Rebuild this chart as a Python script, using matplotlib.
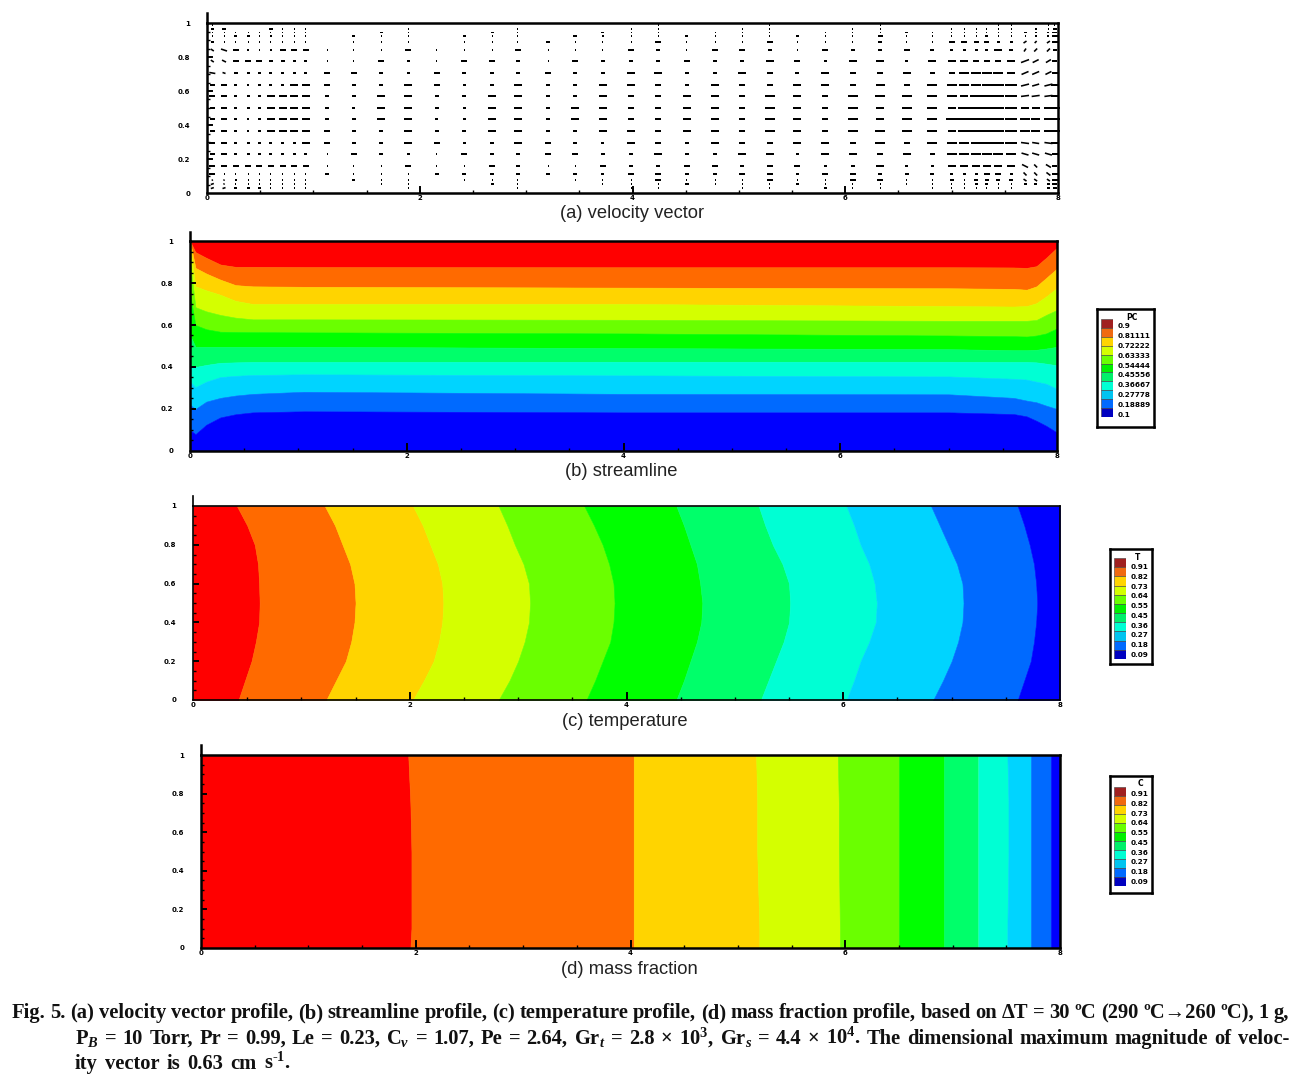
import numpy as np
import matplotlib
matplotlib.use("Agg")
import matplotlib.pyplot as plt
from matplotlib.ticker import MultipleLocator

plt.rcParams["mathtext.fontset"] = "custom"
plt.rcParams["mathtext.rm"] = "Liberation Serif:bold"
plt.rcParams["mathtext.it"] = "Liberation Serif:italic:bold"
plt.rcParams["mathtext.bf"] = "Liberation Serif:bold"

W, H = 1300, 1080

# ── Data ────────────────────────────────────────────────────────────────────

BAND_COLORS = ["#ff0000", "#ff6a00", "#ffd400", "#d4ff00", "#6aff00", "#00ff00",
               "#00ff6a", "#00ffd4", "#00d4ff", "#006aff", "#0000ff"]
SWATCH_COLORS = ["#a02020", "#f06a10", "#ffd400", "#d4ff00", "#6aff00", "#00f000",
                 "#00f06a", "#00ffd4", "#00c4f0", "#006aff", "#0000c0"]

# (a) velocity vectors: dash length in pixels (hex digit) per row and column
VEC_X = [0.05, 0.16, 0.27, 0.39, 0.49, 0.60, 0.71, 0.82, 0.93, 1.13, 1.38, 1.64,
         1.89, 2.16, 2.42, 2.68, 2.92, 3.21, 3.46, 3.72, 3.99, 4.24, 4.51, 4.78,
         5.03, 5.29, 5.55, 5.81, 6.07, 6.33, 6.58, 6.82, 7.00, 7.12, 7.23, 7.33,
         7.44, 7.56, 7.69, 7.79, 7.91, 7.97]
VEC_Y = [0.988, 0.965, 0.944, 0.924, 0.888, 0.841, 0.776, 0.706, 0.635, 0.571,
         0.5, 0.435, 0.365, 0.294, 0.229, 0.159, 0.112, 0.076, 0.053, 0.029]
VEC_LEN = [
    "100000000 000000 0000001000100010 00000110011",
    "340004111 000100 0100011001100110 01111110214",
    "111111111 003100 3100311011101113 11111113225",
    "113312111 031103 1104211311131151 11113111226",
    "311111111 011101 1141116111611141 16655333236",
    "366212666 111611 1611164166416446 43333842334",
    "346664433 116316 6416444644863883 88866688655",
    "634333333 664364 4464488448648668 56aaaa87766",
    "563233388 644863 4844886486688696 aaaaacc8788",
    "663338888 448844 8844866886a86aaa aa8cccc8888",
    "563338888 438843 8848866886a86a8a a8ccccc888a",
    "563238888 448833 8848866886a86a8a acccccca99a",
    "563238888 644844 8844886886a86aaa a8ccccca99a",
    "663333338 644863 48643864866886a6 aaaaccc8788",
    "563333333 164316 4466448448838868 5aaaaaa7776",
    "666666666 111611 6411644664663483 38888886355",
    "611111111 411144 4444366446636644 43336633346",
    "112111111 031101 1101116111611661 14144443336",
    "311111111 001100 3100111411131111 11133113335",
    "333331111 000100 0100011001103110 11111110034",
]
# slant of the dashes next to the side walls, pixels per row
RISE_RIGHT = [0, 0, 0, 0, 2, 3, 3, 3, 2, 1, 0, 0, 0, -1, -2, -3, -3, -2, 0, 0]
RISE_LEFT = [0, 0, 0, 0, 0, -2, -2, -1, 0, 0, 0, 0, 0, 0, 0, 0, 0, 1, 1, 1]

# (b) streamline band edges, y of each edge at STREAM_X
STREAM_X = [0, 0.05, 0.15, 0.28, 0.42, 0.58, 1.05, 4.0, 7.0, 7.6, 7.72, 7.81, 7.9, 8.0]
STREAM_EDGES = [
    [1.00, .947, .920, .888, .877, .877, .876, .875, .875, .874, .872, .880, .920, .968],
    [1.00, .872, .845, .816, .790, .784, .782, .778, .775, .772, .768, .784, .824, .869],
    [.980, .784, .765, .744, .715, .700, .700, .700, .690, .688, .690, .704, .736, .776],
    [.900, .685, .665, .648, .635, .627, .627, .625, .620, .620, .620, .624, .648, .672],
    [.750, .600, .580, .568, .567, .566, .565, .560, .550, .547, .545, .550, .560, .584],
    [.550, .496, .496, .496, .496, .496, .496, .490, .485, .480, .480, .482, .488, .496],
    [.400, .400, .410, .420, .422, .424, .424, .425, .425, .424, .424, .422, .416, .408],
    [.330, .304, .330, .352, .358, .362, .365, .360, .355, .344, .340, .330, .320, .296],
    [.220, .200, .235, .253, .264, .272, .282, .272, .270, .253, .240, .232, .216, .200],
    [.100, .080, .125, .160, .175, .184, .189, .184, .184, .176, .165, .144, .120, .088],
]

# (c) temperature band edges, x of each edge at TEMP_Y
TEMP_Y = [1.0, 0.9, 0.8, 0.7, 0.6, 0.5, 0.4, 0.3, 0.2, 0.1, 0.0]
TEMP_EDGES = [
    [.405, .50, .57, .60, .61, .615, .61, .58, .54, .48, .42],
    [1.216, 1.31, 1.38, 1.45, 1.49, 1.50, 1.49, 1.46, 1.41, 1.32, 1.23],
    [2.03, 2.12, 2.19, 2.26, 2.30, 2.31, 2.30, 2.27, 2.22, 2.13, 2.03],
    [2.82, 2.90, 2.97, 3.05, 3.10, 3.11, 3.10, 3.06, 3.00, 2.92, 2.82],
    [3.61, 3.70, 3.78, 3.84, 3.88, 3.89, 3.88, 3.85, 3.78, 3.71, 3.63],
    [4.46, 4.53, 4.59, 4.65, 4.68, 4.70, 4.69, 4.65, 4.59, 4.53, 4.46],
    [5.22, 5.28, 5.35, 5.44, 5.50, 5.51, 5.50, 5.45, 5.38, 5.31, 5.24],
    [6.03, 6.10, 6.16, 6.24, 6.29, 6.31, 6.30, 6.24, 6.16, 6.10, 6.03],
    [6.81, 6.89, 6.97, 7.05, 7.10, 7.11, 7.10, 7.06, 7.00, 6.92, 6.83],
    [7.61, 7.67, 7.72, 7.76, 7.78, 7.79, 7.78, 7.76, 7.73, 7.67, 7.61],
]

# (d) mass fraction band edges, x of each edge at MASS_Y
MASS_Y = [1.0, 0.75, 0.5, 0.1, 0.0]
MASS_EDGES = [
    [1.93, 1.95, 1.96, 1.96, 1.95],
    [4.03, 4.03, 4.03, 4.03, 4.03],
    [5.17, 5.18, 5.18, 5.20, 5.20],
    [5.93, 5.94, 5.94, 5.95, 5.95],
    [6.50, 6.50, 6.50, 6.50, 6.50],
    [6.92, 6.92, 6.92, 6.92, 6.92],
    [7.24, 7.24, 7.24, 7.24, 7.24],
    [7.51, 7.52, 7.52, 7.51, 7.51],
    [7.73, 7.73, 7.73, 7.73, 7.73],
    [7.92, 7.92, 7.92, 7.92, 7.92],
]

X_TICKS = [0, 2, 4, 6, 8]
Y_TICKS = [0, 0.2, 0.4, 0.6, 0.8, 1]
Y_LABELS = ["0", "0.2", "0.4", "0.6", "0.8", "1"]

LEGEND_B = ["0.9", "0.81111", "0.72222", "0.63333", "0.54444",
            "0.45556", "0.36667", "0.27778", "0.18889", "0.1"]
LEGEND_C = ["0.91", "0.82", "0.73", "0.64", "0.55", "0.45", "0.36", "0.27", "0.18", "0.09"]
LEGEND_D = ["0.91", "0.82", "0.73", "0.64", "0.55", "0.45", "0.36", "0.27", "0.18", "0.09"]

CAPTION = [
    "Fig. 5. (a) velocity vector profile, (b) streamline profile, (c) temperature profile, "
    "(d) mass fraction profile, based on \u0394T = 30 \u00baC (290 \u00baC\u2192260 \u00baC), 1 g,",
    "P$_{B}$ = 10 Torr, Pr = 0.99, Le = 0.23, C$_{v}$ = 1.07, Pe = 2.64, Gr$_{t}$ = 2.8 \u00d7 10$^{3}$, "
    "Gr$_{s}$ = 4.4 \u00d7 10$^{4}$. The dimensional maximum magnitude of veloc-",
    "ity vector is 0.63 cm s$^{\u20101}$.",
]


# ── Helpers ─────────────────────────────────────────────────────────────────

fig = plt.figure(figsize=(W / 100, H / 100), dpi=100, facecolor="white")


def px_axes(left, top, right, bottom, **kw):
    return fig.add_axes([left / W, 1 - bottom / H, (right - left) / W, (bottom - top) / H], **kw)


def px_text(x, y, s, **kw):
    return fig.text(x / W, 1 - y / H, s, **kw)


def panel(box, label, label_x, label_y, axis_top, lw=1.8):
    ax = px_axes(*box)
    ax.set_xlim(0, 8)
    ax.set_ylim(0, 1)
    ax.set_xticks(X_TICKS)
    ax.set_yticks(Y_TICKS)
    ax.set_yticklabels(Y_LABELS)
    ax.xaxis.set_minor_locator(MultipleLocator(0.5))
    ax.yaxis.set_minor_locator(MultipleLocator(0.05))
    ax.tick_params(which="major", length=0, labelsize=5)
    ax.tick_params(axis="x", which="major", pad=1.5)
    ax.tick_params(axis="y", which="major", pad=12)
    ax.tick_params(which="minor", direction="in", length=2, width=1)
    for lab in ax.get_xticklabels() + ax.get_yticklabels():
        lab.set_fontweight("bold")
    for sp in ax.spines.values():
        sp.set_linewidth(lw)
    for t in X_TICKS[1:-1]:
        ax.plot([t, t], [0, 0.035], color="black", lw=1.4, zorder=6)
    for t in Y_TICKS[1:-1]:
        ax.plot([0, 0.045], [t, t], color="black", lw=1.4, zorder=6)
    # y axis line runs on past the frame
    ax.plot([0, 0], [1, axis_top], color="black", lw=lw, clip_on=False, zorder=6)
    px_text(label_x, label_y, label, family="Liberation Sans", fontsize=13.2,
            ha="center", va="center", color="#222222")
    return ax


def legend(box, bar, title, title_xy, labels, label_x, rows):
    frame = px_axes(*box, zorder=1)
    frame.set_xticks([])
    frame.set_yticks([])
    for sp in frame.spines.values():
        sp.set_linewidth(1.8)
    ax = px_axes(*bar, zorder=2)
    ax.bar(np.zeros(11), np.ones(11), bottom=np.arange(11)[::-1], width=1,
           color=SWATCH_COLORS, edgecolor="#404040", linewidth=0.4)
    ax.set_xlim(-0.5, 0.5)
    ax.set_ylim(0, 11)
    ax.axis("off")
    px_text(title_xy[0], title_xy[1], title, fontsize=5.5, fontweight="bold",
            ha="center", va="center", zorder=3)
    for y, s in zip(np.linspace(rows[0], rows[1], len(labels)), labels):
        px_text(label_x, y, s, fontsize=5.2, fontweight="bold", ha="left", va="center", zorder=3)


def justified(words_line, x0, x1, y, size):
    renderer = fig.canvas.get_renderer()
    words = words_line.split(" ")
    items = [px_text(0, y, w, family="Liberation Serif", fontweight="bold",
                     fontsize=size, ha="left", va="baseline", color="#111111") for w in words]
    widths = [t.get_window_extent(renderer).width for t in items]
    gap = (x1 - x0 - sum(widths)) / (len(words) - 1)
    x = x0
    for t, w in zip(items, widths):
        t.set_x(x / W)
        x += w + gap


# ── Panel (a) ───────────────────────────────────────────────────────────────

ax_a = panel((207, 23, 1058, 193), "(a) velocity vector", 632, 213, 1.06)

px_x = 8 / 851
px_y = 1 / 170
vx, vy, vu, vv = [], [], [], []
for r, row in enumerate(VEC_LEN):
    digits = [int(c, 16) for c in row.replace(" ", "")]
    for c, n in enumerate(digits):
        if n == 0:
            continue
        rise = 0
        if c in (38, 39, 40):
            rise = RISE_RIGHT[r]
        elif c in (0, 1):
            rise = RISE_LEFT[r]
        vx.append(VEC_X[c])
        vy.append(VEC_Y[r])
        vu.append(n * px_x)
        vv.append(rise * px_y)
ax_a.quiver(vx, vy, vu, vv, angles="xy", scale_units="xy", scale=1, pivot="mid",
            units="dots", width=1.6, headwidth=1, headlength=0, headaxislength=0,
            minlength=0, color="black", clip_on=False, zorder=5)

# ── Panel (b) ───────────────────────────────────────────────────────────────

ax_b = panel((190, 241, 1057, 451), "(b) streamline", 621, 471, 1.045)
edges = [[1.0] * len(STREAM_X)] + STREAM_EDGES + [[0.0] * len(STREAM_X)]
for color, hi, lo in zip(BAND_COLORS, edges[:-1], edges[1:]):
    ax_b.fill_between(STREAM_X, lo, hi, facecolor=color, edgecolor=color, lw=0.4)

# ── Panel (c) ───────────────────────────────────────────────────────────────

ax_c = panel((193, 506, 1060, 700), "(c) temperature", 625, 722, 1.05, lw=1.2)
edges = [[0.0] * len(TEMP_Y)] + TEMP_EDGES + [[8.0] * len(TEMP_Y)]
for color, lo, hi in zip(BAND_COLORS, edges[:-1], edges[1:]):
    ax_c.fill_betweenx(TEMP_Y, lo, hi, facecolor=color, edgecolor=color, lw=0.4)

# ── Panel (d) ───────────────────────────────────────────────────────────────

ax_d = panel((201, 755, 1060, 948), "(d) mass fraction", 629, 970, 1.05)
edges = [[0.0] * len(MASS_Y)] + MASS_EDGES + [[8.0] * len(MASS_Y)]
for color, lo, hi in zip(BAND_COLORS, edges[:-1], edges[1:]):
    ax_d.fill_betweenx(MASS_Y, lo, hi, facecolor=color, edgecolor=color, lw=0.4)

# ── Legends ─────────────────────────────────────────────────────────────────

legend((1097, 309, 1154, 427), (1101, 319, 1113, 417), "PC", (1132, 317), LEGEND_B, 1118, (326, 415))
legend((1110, 549, 1152, 664), (1114, 558, 1126, 659), "T", (1138, 557), LEGEND_C, 1131, (567, 655))
legend((1110, 776, 1152, 893), (1114, 787, 1126, 886), "C", (1140, 784), LEGEND_D, 1131, (794, 882))

# ── Caption ─────────────────────────────────────────────────────────────────

fig.canvas.draw()
justified(CAPTION[0], 12, 1289, 1018, 14.8)
justified(CAPTION[1], 75, 1289, 1044, 14.8)
justified(CAPTION[2], 75, 291, 1069, 14.8)

fig.savefig("out.png", dpi=100, facecolor="white")
plt.close(fig)
